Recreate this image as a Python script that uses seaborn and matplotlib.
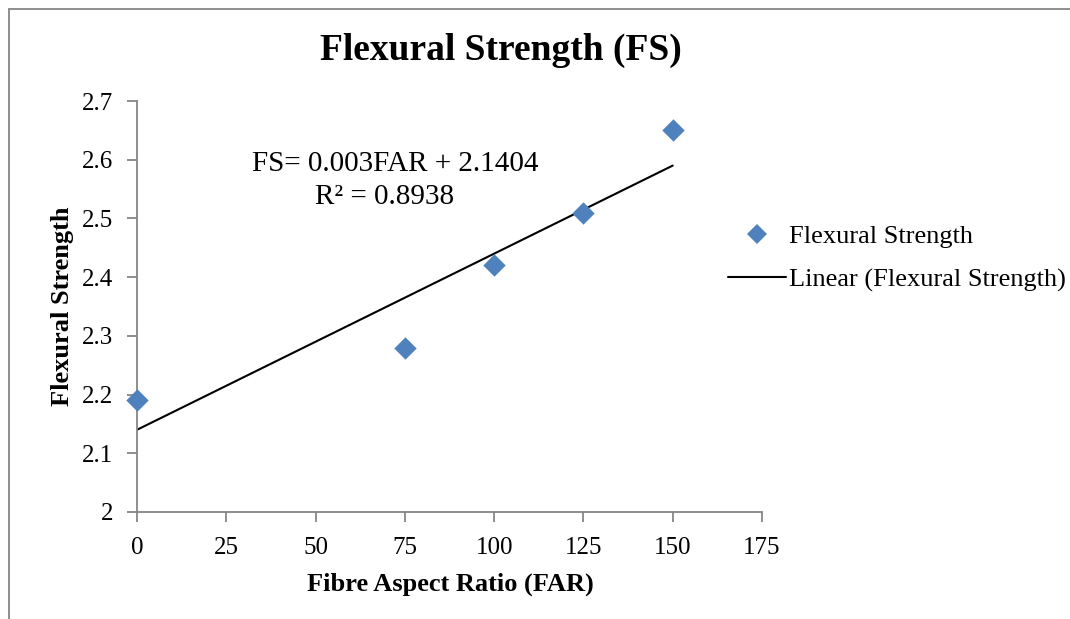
import numpy as np
import pandas as pd
import seaborn as sns
import matplotlib
matplotlib.use("Agg")
import matplotlib.pyplot as plt
from matplotlib.lines import Line2D
from matplotlib.ticker import FuncFormatter

# Flexural strength measured at each fibre aspect ratio
far = [0, 75, 100, 125, 150]
fs = [2.19, 2.28, 2.42, 2.51, 2.65]
x_ticks = [0, 25, 50, 75, 100, 125, 150, 175]
y_ticks = [2.0, 2.1, 2.2, 2.3, 2.4, 2.5, 2.6, 2.7]
equation = "FS= 0.003FAR + 2.1404"
r_squared = "R² = 0.8938"

df = pd.DataFrame({"FAR": far, "FS": fs})

sns.set_theme(style="white")
plt.rcParams["font.family"] = ["Liberation Serif", "DejaVu Serif"]
plt.rcParams["text.color"] = "black"

blue = "#4F81BD"
grey = "#868686"

fig = plt.figure(figsize=(10.7, 6.19), dpi=100)
ax = fig.add_axes([137 / 1070, 1 - 512 / 619, 625 / 1070, 411 / 619])

# linear trend line over the data range
sns.regplot(data=df, x="FAR", y="FS", ax=ax, scatter=False, ci=None,
            line_kws={"color": "black", "linewidth": 1.5, "zorder": 2})
sns.scatterplot(data=df, x="FAR", y="FS", ax=ax, marker="D", s=130,
                color=blue, edgecolor=blue, linewidth=0, zorder=3,
                clip_on=False)

ax.set_xlim(0, 175)
ax.set_ylim(2.0, 2.7)
ax.set_xticks(x_ticks)
ax.set_yticks(y_ticks)
fmt = FuncFormatter(lambda v, p: f"{v:g}")
ax.xaxis.set_major_formatter(fmt)
ax.yaxis.set_major_formatter(fmt)
ax.tick_params(axis="both", which="major", labelsize=18, labelcolor="black",
               length=7, width=1.3, color=grey, direction="out")
ax.tick_params(axis="x", pad=11)
ax.tick_params(axis="y", pad=10)
ax.tick_params(left=True, bottom=True)
for side in ("top", "right"):
    ax.spines[side].set_visible(False)
for side in ("left", "bottom"):
    ax.spines[side].set_color(grey)
    ax.spines[side].set_linewidth(1.3)

ax.set_xlabel("")
ax.set_ylabel("")
fig.text(450 / 1070, 1 - 584 / 619, "Fibre Aspect Ratio (FAR)", ha="center",
         va="center", fontsize=19, fontweight="bold")
fig.text(63 / 1070, 1 - 306 / 619, "Flexural Strength", ha="center",
         va="center", rotation=90, fontsize=19, fontweight="bold")
fig.text(501 / 1070, 1 - 50 / 619, "Flexural Strength (FS)", ha="center",
         va="center", fontsize=27, fontweight="bold")

fig.text(395 / 1070, 1 - 164 / 619, equation, ha="center", va="center",
         fontsize=21)
fig.text(385 / 1070, 1 - 197 / 619, r_squared, ha="center", va="center",
         fontsize=21)

# legend entries
handles = [
    Line2D([], [], marker="D", linestyle="none", color=blue,
           markersize=10, markeredgewidth=0),
    Line2D([], [], color="black", linewidth=1.5),
]
labels = ["Flexural Strength", "Linear (Flexural Strength)"]
fig.legend(handles, labels, loc="center left",
           bbox_to_anchor=(728 / 1070, 1 - 258 / 619), frameon=False,
           fontsize=19, handlelength=2.2, handletextpad=0.1,
           labelspacing=0.75, borderaxespad=0, borderpad=0)

# outer chart frame (left and top edges)
fig.add_artist(Line2D([9 / 1070, 9 / 1070], [0, 1 - 9 / 619],
                      transform=fig.transFigure, color=grey, linewidth=1.3))
fig.add_artist(Line2D([9 / 1070, 1], [1 - 9 / 619, 1 - 9 / 619],
                      transform=fig.transFigure, color=grey, linewidth=1.3))

fig.savefig("out.png", dpi=100, facecolor="white")
